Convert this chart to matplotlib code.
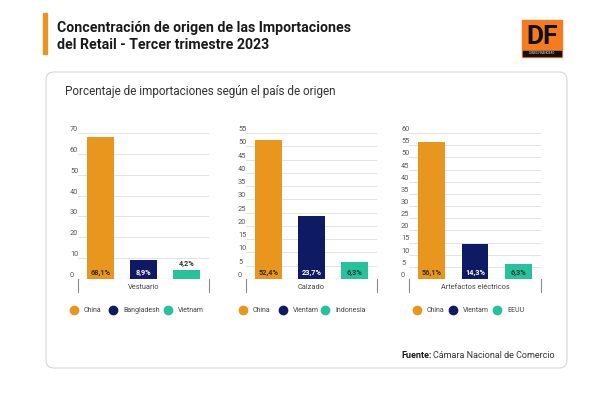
import matplotlib.pyplot as plt
import matplotlib.patches as patches
from matplotlib.lines import Line2D

plt.rcParams['font.family'] = ['Roboto', 'DejaVu Sans']

# datos
categorias = ["Vestuario", "Calzado", "Artefactos eléctricos"]
paises = [["China", "Bangladesh", "Vietnam"],
          ["China", "Vientam", "Indonesia"],
          ["China", "Vientam", "EEUU"]]
valores = [[68.1, 8.9, 4.2],
           [52.4, 23.7, 6.3],
           [56.1, 14.3, 6.3]]
ymax = [70, 55, 60]
paso = [10, 5, 5]

colores = ["#E9961F", "#0E1A64", "#26C29C"]
col_texto = ["#3a2a0c", "white", "#1d3a30"]

W, H = 600, 394
fig = plt.figure(figsize=(6, 3.94), dpi=100)
fig.patch.set_facecolor("white")


def fx(x):
    return x / W


def fy(y):
    return 1 - y / H


# barra naranja y titulo
fig.patches.append(patches.Rectangle((fx(43), fy(54)), 4.5 / W, 41 / H,
                                     transform=fig.transFigure, color="#E9961F"))
fig.text(fx(57), fy(28), "Concentración de origen de las Importaciones",
         fontsize=10.2, fontweight="bold", color="#1a1a1a", va="center")
fig.text(fx(57), fy(45), "del Retail - Tercer trimestre 2023",
         fontsize=10.2, fontweight="bold", color="#1a1a1a", va="center")

# logo DF
fig.patches.append(patches.Rectangle((fx(522), fy(57)), 40 / W, 37 / H,
                                     transform=fig.transFigure, color="#F47B20"))
fig.patches.append(patches.Rectangle((fx(523), fy(56)), 38 / W, 5 / H,
                                     transform=fig.transFigure, color="#111111"))
fig.text(fx(542), fy(37), "DF", fontsize=19, fontweight="bold", color="#111111",
         ha="center", va="center")
fig.text(fx(542), fy(53.5), "DIARIO FINANCIERO", fontsize=2, color="white",
         ha="center", va="center")

# caja redondeada
caja = patches.FancyBboxPatch((46 / 100, (H - 368) / 100), 521 / 100, 296 / 100,
                              boxstyle="round,pad=0,rounding_size=0.08",
                              transform=fig.dpi_scale_trans, facecolor="white",
                              edgecolor="#d6d6d6", linewidth=0.8, zorder=-1)
fig.patches.append(caja)

fig.text(fx(65), fy(92), "Porcentaje de importaciones según el país de origen",
         fontsize=8.5, color="#333333", va="center")

paneles = [(78, 209), (246, 377), (409, 541)]
leg_x = [(74, 113, 168), (243, 283, 325), (417, 453, 497)]

for i in range(3):
    x0, x1 = paneles[i]
    ax = fig.add_axes([fx(x0), fy(279), (x1 - x0) / W, 146 / H])
    ax.patch.set_alpha(0)
    ax.bar(range(3), valores[i], width=0.62, color=colores)
    ax.set_xlim(-0.52, 2.52)
    ax.set_ylim(0, ymax[i])
    ax.set_xticks([])
    ax.set_yticks([])
    for s in ax.spines.values():
        s.set_visible(False)
    ticks = list(range(0, ymax[i] + 1, paso[i]))
    for t in ticks:
        if t > 0:
            ax.axhline(t, color="#e3e3e3", linewidth=0.7, zorder=0)
        ax.text(-8 / (x1 - x0), t, str(t), transform=ax.get_yaxis_transform(),
                fontsize=5.3, color="#555555", ha="left", va="bottom")
    ax.axhline(0, color="#8a8a8a", linewidth=0.8, zorder=3)
    # lineas del eje de categoria
    for xx in (0, 1):
        ax.plot([xx, xx], [0, -0.09], transform=ax.transAxes, clip_on=False,
                color="#8a8a8a", linewidth=0.8)
    ax.text(0.5, -0.055, categorias[i], transform=ax.transAxes, fontsize=5.3,
            color="#444444", ha="center", va="center")
    for j, v in enumerate(valores[i]):
        txt = ("%.1f%%" % v).replace(".", ",")
        if v < 5:
            ax.annotate(txt, (j, v), xytext=(0, 1.5), textcoords="offset points",
                        ha="center", va="bottom", fontsize=5.3, fontweight="bold",
                        color="#333333")
        else:
            ax.annotate(txt, (j, 0), xytext=(0, 1.5), textcoords="offset points",
                        ha="center", va="bottom", fontsize=5.3, fontweight="bold",
                        color=col_texto[j], zorder=4)
    # leyenda
    for j in range(3):
        fig.lines.append(Line2D([fx(leg_x[i][j])], [fy(310)], marker="o",
                                markersize=6, color=colores[j], linestyle="",
                                transform=fig.transFigure))
        fig.text(fx(leg_x[i][j] + 10), fy(310), paises[i][j], fontsize=5,
                 color="#444444", va="center")

fig.text(fx(555), fy(355), "Cámara Nacional de Comercio", fontsize=6.5,
         color="#333333", va="center", ha="right")
fig.text(fx(401), fy(355), "Fuente:", fontsize=6.5, fontweight="bold",
         color="#1a1a1a", va="center")

fig.savefig("out.png", dpi=100)
